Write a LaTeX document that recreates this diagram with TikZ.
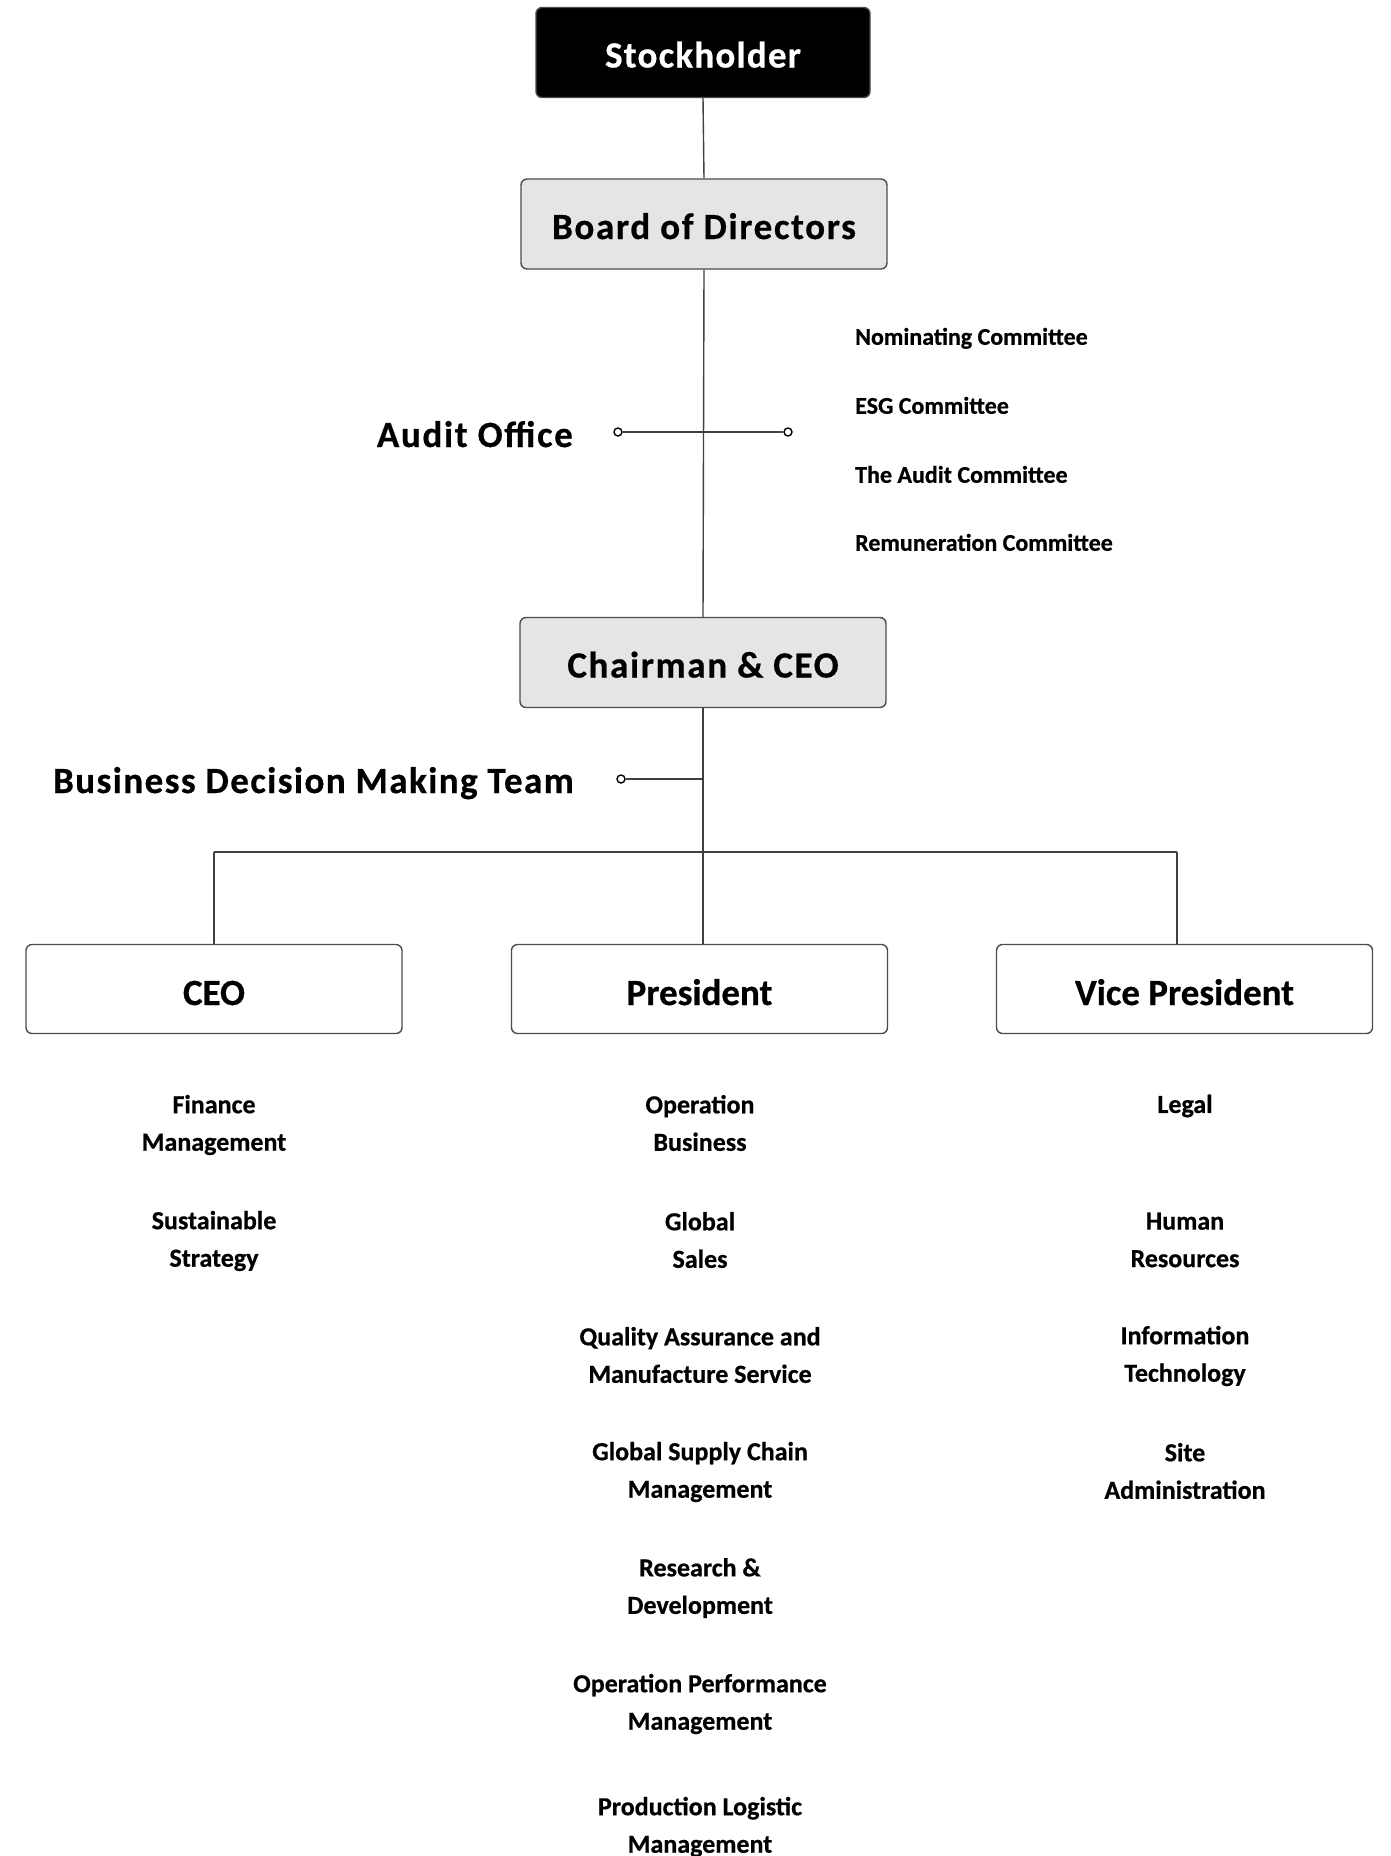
\documentclass[tikz,border=0pt]{standalone}
\usepackage{fontspec}
\setmainfont{Carlito}[BoldFeatures={FakeBold=0.6}]
\newfontfamily\titlefont{Carlito}[LetterSpace=4.5,BoldFeatures={FakeBold=0.6}]
\begin{document}
\begin{tikzpicture}[x=1pt,y=-1pt,
  wire/.style={draw=black!75, line width=1.4pt},
  box/.style={rounded corners=6pt, draw=black!70, line width=1.4pt,
    font=\titlefont\fontsize{37}{40}\selectfont\bfseries,
    text height=30pt, text depth=0pt, inner sep=0pt},
  headbox/.style={box, fill=black, text=white, minimum width=334pt, minimum height=90pt},
  greybox/.style={box, fill=black!10, minimum width=366pt, minimum height=90pt},
  rolebox/.style={box, fill=white, minimum width=376pt, minimum height=89pt,
    font=\fontsize{37}{40}\selectfont\bfseries, text height=32pt},
  bigtag/.style={font=\titlefont\fontsize{37}{40}\selectfont\bfseries,
    text height=24pt, text depth=0pt, inner sep=0pt},
  smalltag/.style={font=\fontsize{24}{30}\selectfont\bfseries,
    text height=15.5pt, text depth=0pt, inner sep=0pt, anchor=west},
  unit/.style={font=\fontsize{26}{37.5}\selectfont\bfseries, align=center, inner sep=0pt},
  dot/.style={circle, draw=black, fill=white, line width=1.4pt, minimum size=8pt, inner sep=0pt}
]
\useasboundingbox (0,0) rectangle (1391,1856);

% top of the chart
\node[headbox] (stock) at (703,52.5) {\addfontfeature{LetterSpace=3.3}Stockholder};
\node[greybox] (board) at (704,224) {Board of Directors};
\node[greybox] (chair) at (703,662.5) {Chairman \& CEO};

% audit office branch and committees
\node[dot] (aol) at (618,432) {};
\node[dot] (aor) at (788,432) {};
\node[bigtag, anchor=east] (audit) at (573,435) {Audit Office};
\node[smalltag] (nom) at (855,337) {Nominating Committee};
\node[smalltag] (esg) at (855,406) {ESG Committee};
\node[smalltag] (auc) at (855,475) {The Audit Committee};
\node[smalltag] (rem) at (855,543) {Remuneration Committee};

% business decision making team
\node[dot] (bdt) at (621,779) {};
\node[bigtag, anchor=east] (bdtl) at (574,781) {\addfontfeature{LetterSpace=3.9}Business Decision Making Team};

% executive boxes
\node[rolebox] (ceo) at (214,989) {CEO};
\node[rolebox] (pres) at (699.5,989) {President};
\node[rolebox] (vp) at (1184.5,989) {Vice President};

% connectors
\coordinate (bmid) at (703,779);
\coordinate (hub) at (703,852);
\coordinate (hubl) at (214,852);
\coordinate (hubr) at (1177,852);
\draw[wire] (stock.south) -- (board.north);
\draw[wire] (board.south) -- (chair.north);
\draw[wire] (aol) -- (aor);
\draw[wire] (chair.south) -- (hub);
\draw[wire] (bdt) -- (bmid);
\draw[wire] (hubl) -- (hubr);
\draw[wire] (hubl) -- (hubl |- ceo.north);
\draw[wire] (hub) -- (hub |- pres.north);
\draw[wire] (hubr) -- (hubr |- vp.north);

% units under the CEO
\node[unit] (fin) at (214,1125) {Finance\\Management};
\node[unit] (sus) at (214,1241) {Sustainable\\Strategy};

% units under the President
\node[unit] (opb) at (700,1123) {Operation\\Business};
\node[unit] (gls) at (700,1240) {Global\\Sales};
\node[unit] (qam) at (700,1355) {Quality Assurance and\\Manufacture Service};
\node[unit] (gsc) at (700,1472) {Global Supply Chain\\Management};
\node[unit] (rnd) at (700,1588) {Research \&\\Development};
\node[unit] (opm) at (700,1704) {Operation Performance\\Management};
\node[unit] (plm) at (700,1827) {Production Logistic\\Management};

% units under the Vice President
\node[unit] (leg) at (1185,1106) {Legal};
\node[unit] (hr) at (1185,1240) {Human\\Resources};
\node[unit] (it) at (1185,1356) {Information\\Technology};
\node[unit] (site) at (1185,1471) {Site\\Administration};
\end{tikzpicture}
\end{document}
